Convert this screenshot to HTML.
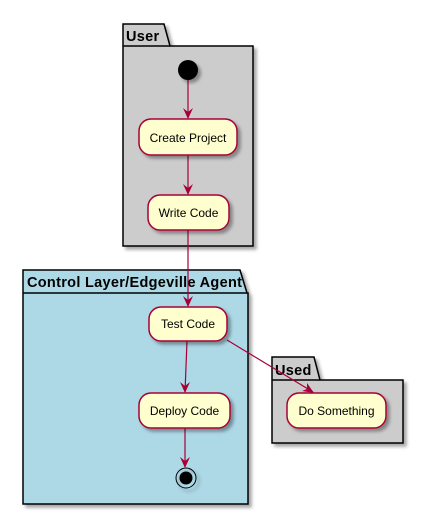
<!DOCTYPE html>
<html><head><style>body{margin:0;background:#fff}svg{display:block}</style></head><body>
<svg width="424" height="515" xmlns="http://www.w3.org/2000/svg" font-family="Liberation Sans, sans-serif">
<defs>
<filter id="sh" x="-20%" y="-20%" width="150%" height="160%"><feDropShadow dx="3" dy="3" stdDeviation="1.5" flood-color="#000" flood-opacity="0.35"/></filter>
</defs>
<!-- User -->
<g filter="url(#sh)">
<path d="M123,24 H164 L170,46 H253 V246 H123 Z" fill="#cccccc" stroke="#000" stroke-width="1.5"/>
</g>
<line x1="123" y1="46" x2="170" y2="46" stroke="#000" stroke-width="1.5"/>
<text x="126" y="41" font-size="14.5" font-weight="bold" letter-spacing="0.3">User</text>
<!-- Control -->
<g filter="url(#sh)">
<path d="M23,270 H240 L247,293 H248 V504 H23 Z" fill="#add8e6" stroke="#000" stroke-width="1.5"/>
</g>
<line x1="23" y1="293" x2="247" y2="293" stroke="#000" stroke-width="1.5"/>
<text x="27" y="287" font-size="14.5" font-weight="bold" letter-spacing="0.3">Control Layer/Edgeville Agent</text>
<!-- Used -->
<g filter="url(#sh)">
<path d="M272,357 H314 L320,380 H403 V443 H272 Z" fill="#cccccc" stroke="#000" stroke-width="1.5"/>
</g>
<line x1="272" y1="380" x2="320" y2="380" stroke="#000" stroke-width="1.5"/>
<text x="275" y="375" font-size="14.5" font-weight="bold" letter-spacing="0.3">Used</text>
<!-- edges -->
<g stroke="#a80036" stroke-width="1.2" fill="none">
<line x1="188" y1="80" x2="188" y2="118"/>
<line x1="188" y1="155" x2="188" y2="194"/>
<line x1="188" y1="230" x2="188" y2="306"/>
<line x1="187" y1="341" x2="185" y2="392"/>
<line x1="185" y1="428" x2="185" y2="467"/>
<line x1="227" y1="340" x2="313" y2="392"/>
</g>
<g fill="#a80036">
<path d="M188,119 L183,108 L188,112 L193,108 Z"/>
<path d="M188,195 L183,184 L188,188 L193,184 Z"/>
<path d="M188,307 L183,296 L188,300 L193,296 Z"/>
<path d="M185,393 L180,382 L185,386 L190,382 Z"/>
<path d="M185,468 L180,457 L185,461 L190,457 Z"/>
<path d="M314,393 L302,391 L307,389 L307,383 Z"/>
</g>
<!-- nodes -->
<g filter="url(#sh)" fill="#fefece" stroke="#a80036" stroke-width="1.5">
<circle cx="188" cy="70" r="10" fill="#000" stroke="none"/>
<rect x="139" y="119" width="98" height="36" rx="12"/>
<rect x="148" y="195" width="81" height="35" rx="12"/>
<rect x="149" y="307" width="78" height="34" rx="12"/>
<rect x="139" y="393" width="91" height="35" rx="12"/>
<rect x="287" y="393" width="99" height="35" rx="12"/>
<circle cx="186" cy="478" r="10" fill="none" stroke="#000" stroke-width="1"/>
</g>
<circle cx="186" cy="478" r="6.5" fill="#000"/>
<g font-size="12" text-anchor="middle" fill="#000">
<text x="188" y="142">Create Project</text>
<text x="188.5" y="217">Write Code</text>
<text x="188" y="328">Test Code</text>
<text x="184.5" y="415">Deploy Code</text>
<text x="336.5" y="415">Do Something</text>
</g>
</svg>
</body></html>
